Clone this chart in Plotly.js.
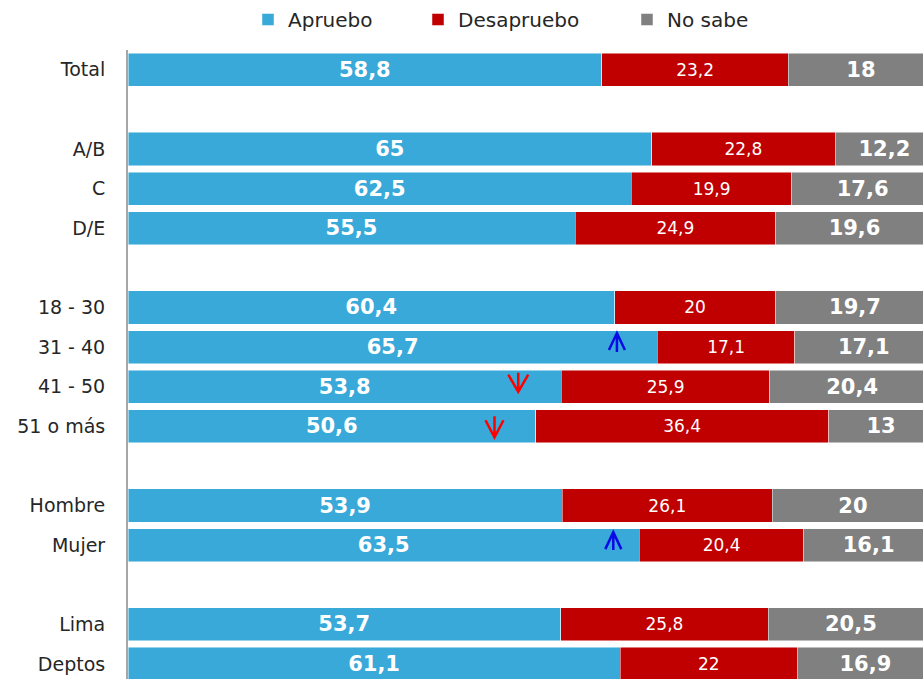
<!DOCTYPE html>
<html>
<head>
<meta charset="utf-8">
<script src="https://cdn.plot.ly/plotly-3.0.1.min.js"></script>
<style>html,body{margin:0;padding:0;background:#fff;}#chart{width:923px;height:679px;}</style>
</head>
<body>
<div id="chart"></div>
<script>
const categories = ['Total', ' ', 'A/B', 'C', 'D/E', '  ', '18 - 30', '31 - 40', '41 - 50', '51 o más', '   ', 'Hombre', 'Mujer', '    ', 'Lima', 'Deptos'];
const apruebo    = [58.8, null, 65, 62.5, 55.5, null, 60.4, 65.7, 53.8, 50.6, null, 53.9, 63.5, null, 53.7, 61.1];
const desapruebo = [23.2, null, 22.8, 19.9, 24.9, null, 20, 17.1, 25.9, 36.4, null, 26.1, 20.4, null, 25.8, 22];
const noSabe     = [18, null, 12.2, 17.6, 19.6, null, 19.7, 17.1, 20.4, 13, null, 20, 16.1, null, 20.5, 16.9];
const seriesNames = ['Apruebo', 'Desapruebo', 'No sabe'];

const FONT = 'DejaVu Sans, Verdana, sans-serif';
const fmt = v => (v === null ? '' : String(v).replace('.', ','));

function barTrace(vals, name, color, legendId, bold, size) {
  return {
    type: 'bar', orientation: 'h',
    y: categories, x: vals, name: name,
    legend: legendId,
    marker: { color: color, line: { color: 'rgba(255,255,255,0.6)', width: 0.8 } },
    text: vals.map(fmt),
    textposition: 'inside', insidetextanchor: 'middle', textangle: 0,
    constraintext: 'none',
    textfont: { family: FONT, size: size, color: '#FFFFFF', weight: bold ? 'bold' : 'normal' },
    hoverinfo: 'skip', cliponaxis: true
  };
}

const data = [
  barTrace(apruebo, seriesNames[0], '#38A9D9', 'legend', true, 21),
  barTrace(desapruebo, seriesNames[1], '#C00000', 'legend2', false, 17),
  barTrace(noSabe, seriesNames[2], '#808080', 'legend3', true, 21)
];

function legendCfg(xpx) {
  return {
    x: xpx / 923, xref: 'container', xanchor: 'left',
    y: 1, yref: 'container', yanchor: 'top',
    orientation: 'h', bgcolor: 'rgba(0,0,0,0)', borderwidth: 0,
    font: { family: FONT, size: 20, color: '#262626' }
  };
}

// significance arrows: anchored at a data x / category row, drawn in pixel offsets
function arrowShape(x, cat, up, tip, tail, spread, color) {
  const armY = up ? tip - 17 : tip + 17;
  const path = 'M' + (-spread) + ',' + armY + ' L0,' + tip + ' L' + spread + ',' + armY +
               ' M0,' + tip + ' L0,' + tail;
  return {
    type: 'path', xref: 'x', yref: 'y',
    xsizemode: 'pixel', ysizemode: 'pixel',
    xanchor: x, yanchor: cat,
    path: path,
    line: { color: color, width: 2.5 },
    fillcolor: 'rgba(0,0,0,0)', layer: 'above'
  };
}

const layout = {
  width: 923, height: 679,
  margin: { l: 128, r: 0, t: 50, b: 0, pad: 0 },
  paper_bgcolor: '#FFFFFF', plot_bgcolor: '#FFFFFF',
  barmode: 'stack', bargap: 0.165,
  separators: ',.',
  font: { family: FONT, color: '#262626' },
  xaxis: { range: [0, 98.7], visible: false, showgrid: false, zeroline: false, fixedrange: true },
  yaxis: {
    type: 'category', categoryorder: 'array', categoryarray: categories,
    range: [15.38, -0.5], autorange: false,
    showline: true, linecolor: '#A6A6A6', linewidth: 2,
    ticks: '', ticklabelstandoff: 17,
    tickfont: { family: FONT, size: 19, color: '#262626' },
    showgrid: false, zeroline: false, fixedrange: true
  },
  legend: legendCfg(248),
  legend2: legendCfg(418),
  legend3: legendCfg(627),
  shapes: [
    arrowShape(60.7, '31 - 40', true, 14, -5, 8, '#0A0AE6'),
    arrowShape(48.45, '41 - 50', false, -5, 14, 10, '#FF0000'),
    arrowShape(45.5, '51 o más', false, -11, 10, 9, '#FF0000'),
    arrowShape(60.25, 'Mujer', true, 13, -5, 8, '#0A0AE6')
  ],
  showlegend: true
};

Plotly.newPlot('chart', data, layout, { displayModeBar: false, staticPlot: true });
</script>
</body>
</html>
